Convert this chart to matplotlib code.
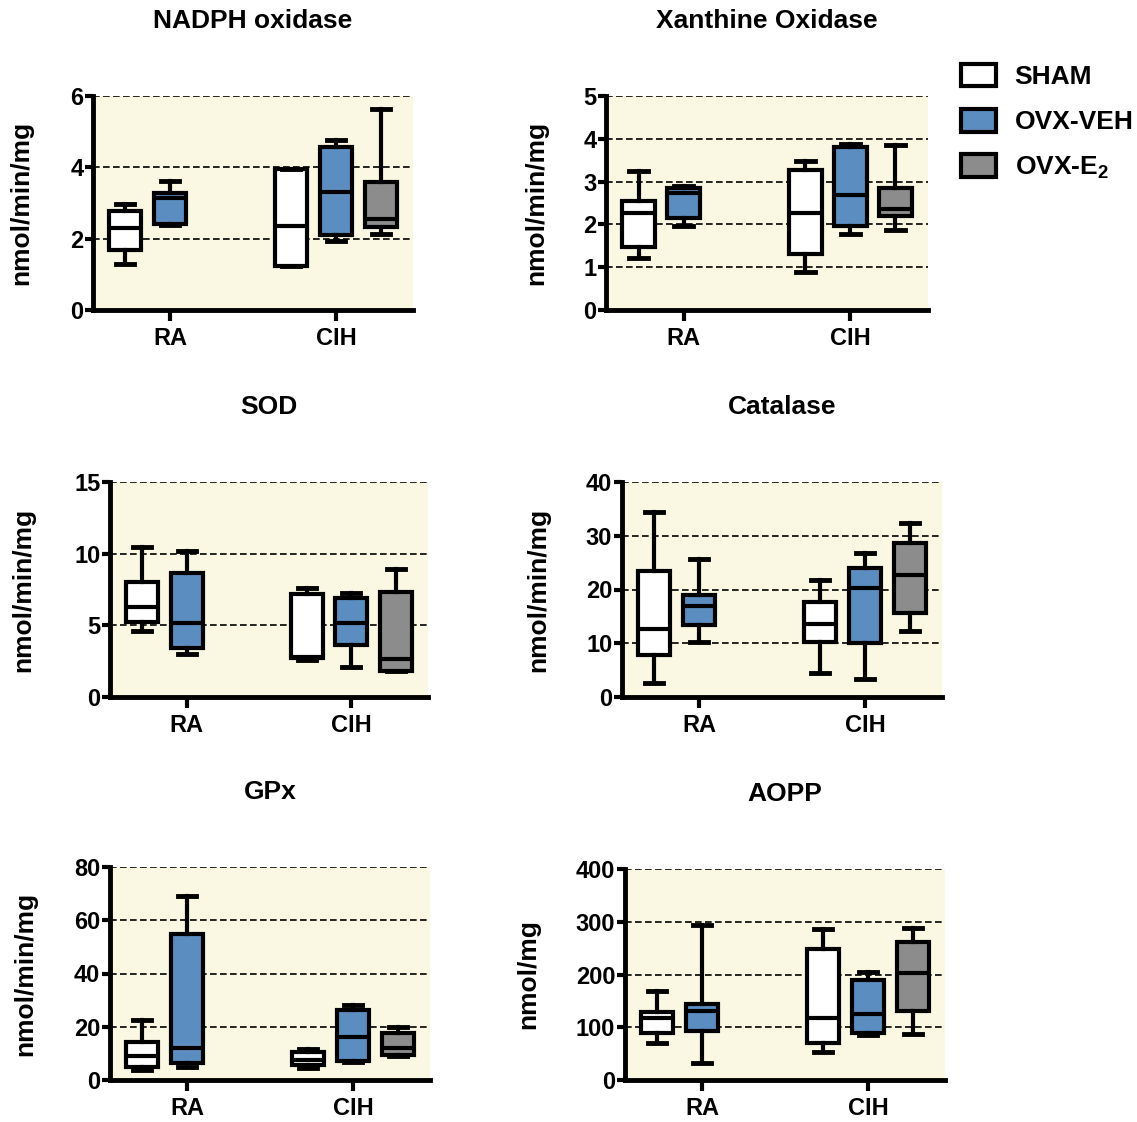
import matplotlib
matplotlib.use("Agg")
from matplotlib import pyplot as plt
from matplotlib.patches import Patch

plt.rcParams['font.family'] = ['Liberation Sans', 'DejaVu Sans']
plt.rcParams['font.weight'] = 'bold'
plt.rcParams['mathtext.fontset'] = 'custom'
plt.rcParams['mathtext.rm'] = 'Liberation Sans:bold'
plt.rcParams['mathtext.bf'] = 'Liberation Sans:bold'

# five-number summaries [whislo, q1, med, q3, whishi]
# order: SHAM-RA, OVX-VEH-RA, SHAM-CIH, OVX-VEH-CIH, OVX-E2-CIH
nadph = [[1.29, 1.69, 2.30, 2.78, 2.96],
         [2.38, 2.42, 3.15, 3.27, 3.62],
         [1.24, 1.24, 2.35, 3.95, 3.96],
         [1.93, 2.10, 3.31, 4.56, 4.78],
         [2.14, 2.33, 2.55, 3.60, 5.63]]
xanthine = [[1.21, 1.47, 2.26, 2.55, 3.24],
            [1.97, 2.16, 2.73, 2.84, 2.89],
            [0.88, 1.31, 2.26, 3.27, 3.47],
            [1.78, 1.96, 2.68, 3.80, 3.88],
            [1.88, 2.19, 2.35, 2.84, 3.86]]
sod = [[4.6, 5.25, 6.3, 8.05, 10.5],
       [3.03, 3.45, 5.13, 8.63, 10.2],
       [2.6, 2.7, 2.8, 7.16, 7.63],
       [2.1, 3.62, 5.13, 6.88, 7.23],
       [1.8, 1.8, 2.68, 7.35, 8.93]]
catalase = [[2.6, 7.8, 12.7, 23.5, 34.4],
            [10.2, 13.4, 16.9, 18.9, 25.7],
            [4.4, 10.2, 13.5, 17.7, 21.8],
            [3.3, 10.0, 20.2, 24.0, 26.8],
            [12.2, 15.7, 22.7, 28.7, 32.3]]
gpx = [[3.8, 5.0, 9.2, 14.4, 22.6],
       [5.0, 6.3, 11.9, 55.0, 69.1],
       [4.4, 5.7, 7.5, 10.4, 11.7],
       [6.8, 7.3, 16.3, 26.4, 28.3],
       [9.0, 9.4, 11.9, 17.6, 19.8]]
aopp = [[71, 90, 118, 128, 169],
        [33, 92, 130, 144, 293],
        [53, 71, 117, 248, 286],
        [85, 90, 126, 190, 204],
        [88, 130, 202, 262, 289]]

titles = ["NADPH oxidase", "Xanthine Oxidase", "SOD", "Catalase", "GPx", "AOPP"]
ylabels = ["nmol/min/mg"] * 5 + ["nmol/mg"]
ymax = [6, 5, 15, 40, 80, 400]
ystep = [2, 1, 5, 10, 20, 100]
groups = ["RA", "CIH"]
series = ["SHAM", "OVX-VEH", "OVX-E$_2$"]
colors = ["white", "#5b8dc0", "#8c8c8c"]
# (group index, series index) of each box
slots = [(0, 0), (0, 1), (1, 0), (1, 1), (1, 2)]

# axes boxes in pixels: left, top, right, bottom
boxes_px = [(93, 96, 413, 310), (606, 96, 928, 310),
            (110, 482, 428, 697), (622, 482, 942, 697),
            (110, 867, 430, 1080), (625, 869, 945, 1080)]
ylabel_x = [33, 548, 35, 550, 37, 540]

W, H = 1137, 1122
fig = plt.figure(figsize=(W / 100, H / 100), dpi=100)

bg = "#faf8e3"
offset = 0.27
for data, title, ylab, top, step, px, lx in zip(
        [nadph, xanthine, sod, catalase, gpx, aopp],
        titles, ylabels, ymax, ystep, boxes_px, ylabel_x):
    l, t, r, b = px
    ax = fig.add_axes([l / W, 1 - b / H, (r - l) / W, (b - t) / H])
    ax.set_facecolor(bg)
    stats = []
    pos = []
    for (g, s), v in zip(slots, data):
        stats.append(dict(whislo=v[0], q1=v[1], med=v[2], q3=v[3], whishi=v[4]))
        pos.append(g + (s - 1) * offset)
    bp = ax.bxp(stats, positions=pos, widths=0.195, capwidths=0.11,
                showfliers=False, patch_artist=True,
                boxprops=dict(linewidth=3, edgecolor="black"),
                medianprops=dict(linewidth=3, color="black"),
                whiskerprops=dict(linewidth=3, color="black"),
                capprops=dict(linewidth=3.5, color="black"))
    for patch, (g, s) in zip(bp['boxes'], slots):
        patch.set_facecolor(colors[s])
    ax.set_xlim(-0.465, 1.465)
    ax.set_ylim(0, top)
    yt = list(range(0, top + 1, step))
    ax.set_yticks(yt)
    ax.set_xticks([0, 1])
    ax.set_xticklabels(groups)
    for y in yt[1:]:
        ax.axhline(y, color="black", linestyle=(0, (4, 2)), linewidth=1.2, zorder=0)
    for sp in ["top", "right"]:
        ax.spines[sp].set_visible(False)
    for sp in ["left", "bottom"]:
        ax.spines[sp].set_linewidth(3.5)
    ax.tick_params(axis="y", width=3, length=6, labelsize=17, pad=1)
    ax.tick_params(axis="x", width=3, length=8, labelsize=17, pad=4)
    ax.text(0.5, 1 + 75 / (b - t), title, transform=ax.transAxes,
            ha="center", va="center", fontsize=19, fontweight="bold")
    ax.set_ylabel(ylab, fontsize=19, fontweight="bold")
    ax.yaxis.set_label_coords((lx - l) / (r - l), 0.5)

handles = [Patch(facecolor=c, edgecolor="black", linewidth=3) for c in colors]
fig.legend(handles, series, loc="upper left", bbox_to_anchor=(950 / W, 1 - 53 / H),
           frameon=False, handlelength=1.35, handleheight=0.95,
           labelspacing=0.75, handletextpad=0.7, borderaxespad=0,
           prop=dict(weight="bold", size=19))

fig.savefig("out.png", dpi=100)
